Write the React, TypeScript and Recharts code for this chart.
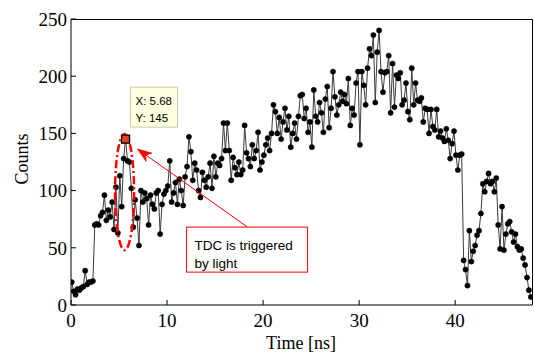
import React from 'react';
import { LineChart, Line, XAxis, YAxis, ReferenceDot } from 'recharts';

// sampling grid of the TDC histogram (bin start and bin width, ns)
const T0 = 0.08;
const DT = 0.2;

// counts per bin
const counts = [
  20, 12, 9, 14, 13, 15, 16, 30, 18, 20,
  20, 21, 70, 71, 70, 78, 81, 96, 74, 83,
  77, 90, 66, 103, 63, 113, 86, 128, 145, 126,
  125, 102, 68, 92, 76, 52, 100, 90, 98, 93,
  70, 96, 88, 84, 98, 100, 62, 88, 97, 100,
  104, 126, 90, 98, 107, 88, 110, 100, 87, 112,
  121, 147, 134, 109, 124, 118, 100, 94, 116, 109,
  103, 112, 124, 102, 130, 112, 124, 122, 128, 159,
  135, 159, 135, 109, 129, 120, 114, 125, 114, 118,
  157, 133, 128, 121, 140, 128, 135, 151, 118, 125,
  131, 140, 146, 135, 150, 175, 169, 150, 164, 145,
  160, 172, 153, 165, 138, 150, 159, 145, 165, 183,
  184, 163, 172, 151, 160, 138, 188, 165, 160, 177,
  168, 151, 180, 191, 155, 172, 204, 182, 166, 175,
  186, 178, 184, 176, 198, 157, 172, 166, 194, 204,
  140, 204, 192, 175, 207, 224, 218, 236, 177, 221,
  240, 204, 186, 203, 204, 218, 168, 211, 173, 201,
  198, 203, 175, 179, 194, 169, 162, 207, 175, 194,
  179, 178, 181, 160, 172, 171, 150, 171, 156, 153,
  171, 147, 152, 146, 143, 154, 144, 128, 141, 152,
  131, 118, 131, 132, 39, 31, 17, 65, 38, 47,
  52, 61, 65, 80, 106, 99, 108, 115, 106, 108,
  99, 111, 70, 49, 86, 48, 62, 71, 73, 64,
  55, 62, 51, 48, 49, 41, 35, 24, 13, 7,
];

const xTicks = [0, 10, 20, 30, 40];
const yTicks = [0, 50, 100, 150, 200, 250];
const xDomain = [0, 48];
const yDomain = [0, 250];

const tipX = 5.68;
const tipY = 145;
const tipLines = ['X: 5.68', 'Y: 145'];
const noteLines = ['TDC is triggered', 'by light'];
const xTitle = 'Time [ns]';
const yTitle = 'Counts';

const data = counts.map((c, i) => ({ t: Math.round((T0 + i * DT) * 100) / 100, c }));

const SERIF = 'Liberation Serif';
const SANS = 'Liberation Sans';
const RED = '#ff0000';

const Annotation = (p: any) => {
  const cx = p.cx;
  const cy = p.cy;
  const tx = cx + 12, ty = cy + 10;
  const sx = cx + 122, sy = cy + 88;
  const dx = tx - sx, dy = ty - sy;
  const len = Math.sqrt(dx * dx + dy * dy);
  const ux = dx / len, uy = dy / len;
  const nx = -uy, ny = ux;
  const L = 14, W = 5, N = 10;
  const b1x = tx - L * ux + W * nx, b1y = ty - L * uy + W * ny;
  const b2x = tx - L * ux - W * nx, b2y = ty - L * uy - W * ny;
  const nkx = tx - N * ux, nky = ty - N * uy;
  return (
    <g>
      <ellipse cx={cx - 1} cy={cy + 53} rx={9.5} ry={58} fill="none" stroke={RED} strokeWidth={2.5} strokeDasharray="8 3 2 3" />
      <rect x={cx - 4} y={cy - 4} width={8} height={8} fill="#e5411e" stroke="#000" strokeWidth={1.3} />
      <rect x={cx + 5} y={cy - 52} width={47} height={40} fill="#ffffe1" stroke="#c9c9a8" strokeWidth={1} />
      <text x={cx + 10} y={cy - 34} fontFamily={SANS} fontSize={11.5} fill="#000">{tipLines[0]}</text>
      <text x={cx + 10} y={cy - 17} fontFamily={SANS} fontSize={11.5} fill="#000">{tipLines[1]}</text>
      <line x1={sx} y1={sy} x2={nkx} y2={nky} stroke={RED} strokeWidth={1} />
      <polygon points={`${tx},${ty} ${b1x},${b1y} ${nkx},${nky} ${b2x},${b2y}`} fill={RED} stroke={RED} strokeWidth={0.8} />
      <rect x={cx + 61} y={cy + 88} width={121} height={45} fill="#fff" stroke={RED} strokeWidth={1} />
      <text x={cx + 69} y={cy + 111} fontFamily={SANS} fontSize={13.5} fill="#000">{noteLines[0]}</text>
      <text x={cx + 69} y={cy + 129} fontFamily={SANS} fontSize={13.5} fill="#000">{noteLines[1]}</text>
    </g>
  );
};

const renderXTick = (p: any) => (
  <g>
    <text x={p.x} y={p.y + 13} textAnchor="middle" fontFamily={SERIF} fontSize={19} fill="#000">
      {String(p.payload.value)}
    </text>
  </g>
);

export default function App() {
  return (
    <div style={{ position: 'absolute', left: 0, top: 0, width: 534, height: 356, background: '#fff', fontFamily: SERIF }}>
      <LineChart width={534} height={356} data={data} margin={{ top: 19, right: 2, bottom: 6, left: 11 }}>
        <XAxis
          dataKey="t"
          type="number"
          domain={xDomain}
          ticks={xTicks}
          allowDataOverflow
          height={45}
          tickSize={-5}
          tickMargin={14}
          stroke="#000"
          tick={renderXTick}
        />
        <YAxis
          type="number"
          domain={yDomain}
          ticks={yTicks}
          allowDataOverflow
          width={60}
          tickSize={-5}
          tickMargin={9}
          stroke="#000"
          tick={{ fill: '#000', fontSize: 19, fontFamily: SERIF }}
        />
        <Line
          dataKey="c"
          stroke="#3c3c3c"
          strokeWidth={1}
          dot={{ r: 2.6, fill: '#000', stroke: '#000', strokeWidth: 0.5 }}
          isAnimationActive={false}
        />
        <ReferenceDot x={tipX} y={tipY} r={0} shape={Annotation} />
      </LineChart>
      <svg width={534} height={356} style={{ position: 'absolute', left: 0, top: 0, pointerEvents: 'none' }}>
        <path d="M71,19.5 H532.5 V305" fill="none" stroke="#000" strokeWidth={1} />
        <text x={301} y={349} textAnchor="middle" fontFamily={SERIF} fontSize={18} fill="#000">{xTitle}</text>
        <text x={22} y={159} textAnchor="middle" fontFamily={SERIF} fontSize={18} fill="#000" dominantBaseline="central" transform="rotate(-90 22 159)">{yTitle}</text>
      </svg>
    </div>
  );
}
